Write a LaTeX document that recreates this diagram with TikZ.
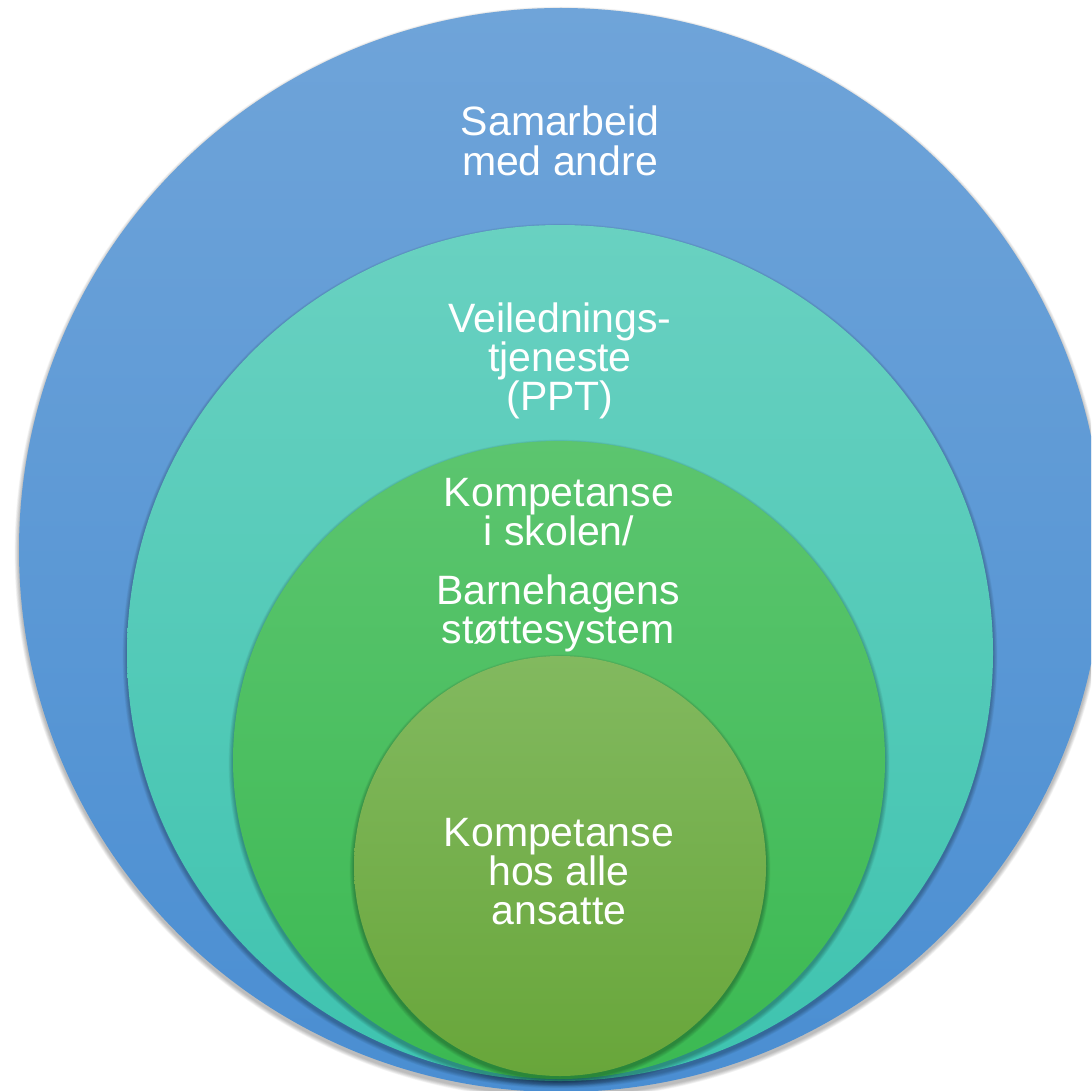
\documentclass[tikz,border=0pt]{standalone}
\usepackage{fontspec}
\setmainfont{Liberation Sans}
\definecolor{blueTop}{HTML}{6FA4D9}
\definecolor{blueBot}{HTML}{4A8ED2}
\definecolor{tealTop}{HTML}{69D1C1}
\definecolor{tealBot}{HTML}{3EC3AF}
\definecolor{greenTop}{HTML}{5CC56F}
\definecolor{greenBot}{HTML}{3BB952}
\definecolor{oliveTop}{HTML}{82B95F}
\definecolor{oliveBot}{HTML}{68A63A}
\newcommand\drawlayer[6]{%
  \foreach \k in {1,...,8}{\fill[black,opacity=0.035] (#1,#2+3) ellipse ({#3+\k*0.55} and {#4+\k*0.55});}
  \shade[top color=#5,bottom color=#6] (#1,#2) ellipse ({#3} and {#4});}
\begin{document}
\begin{tikzpicture}[x=1pt,y=-1pt,
  lbl/.style={text=white, font=\fontsize{41}{41}\selectfont, anchor=base, inner sep=0pt}]
\useasboundingbox (0,0) rectangle (1091,1091);
\clip (0,0) rectangle (1091,1091);
\fill[white] (0,0) rectangle (1091,1091);
\drawlayer{561}{550}{542}{542}{blueTop}{blueBot}
\drawlayer{560}{653}{433}{428}{tealTop}{tealBot}
\drawlayer{559}{760}{326}{319}{greenTop}{greenBot}
\drawlayer{560}{866}{206}{210}{oliveTop}{oliveBot}
% outer ring
\node[lbl] (s1) at (560,136) {Samarbeid};
\node[lbl] (s2) at (560,176) {med andre};
% second ring
\node[lbl] (v1) at (560,332) {Veilednings-};
\node[lbl] (v2) at (560,371) {tjeneste};
\node[lbl] (v3) at (560,410) {(PPT)};
% third ring
\node[lbl] (k1) at (559,506) {Kompetanse};
\node[lbl] (k2) at (559,545) {i skolen/};
\node[lbl] (k3) at (558,604) {Barnehagens};
\node[lbl] (k4) at (558,643) {støttesystem};
% inner
\node[lbl] (a1) at (559,846) {Kompetanse};
\node[lbl] (a2) at (559,885) {hos alle};
\node[lbl] (a3) at (559,924) {ansatte};
\end{tikzpicture}
\end{document}
